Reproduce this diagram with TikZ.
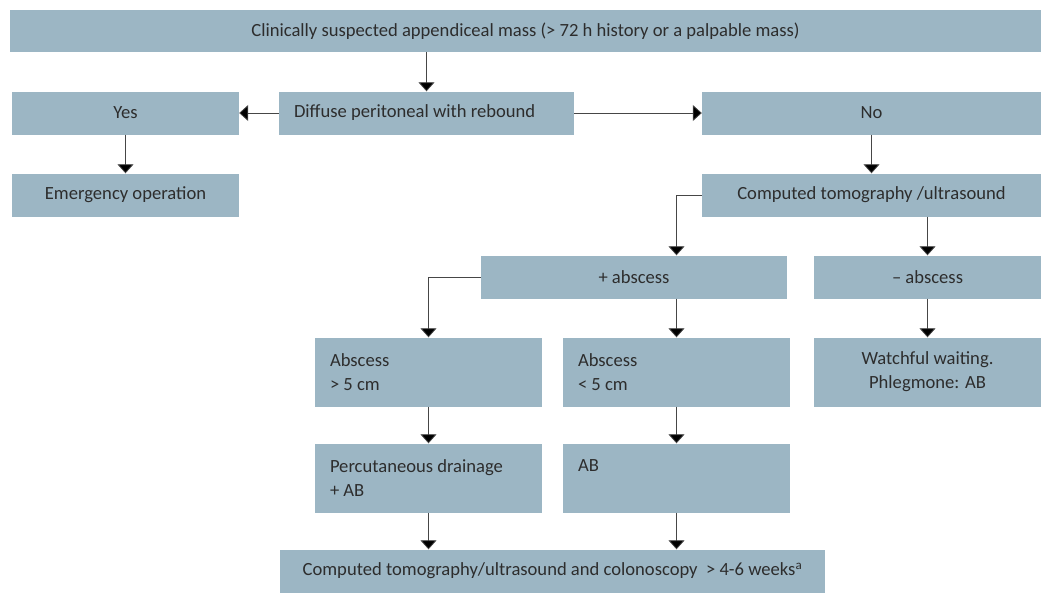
\documentclass[tikz,border=0pt]{standalone}
\usepackage{fontspec}
\setmainfont{Carlito}
\usepackage{tikz}
\usetikzlibrary{arrows.meta}
\definecolor{boxfill}{RGB}{156,182,196}
\definecolor{boxtext}{RGB}{45,45,45}
\definecolor{linegray}{RGB}{70,70,70}

\begin{document}
\begin{tikzpicture}[x=1pt, y=-1pt,
	font=\fontsize{18.6}{24}\selectfont,
	box/.style={rectangle, fill=boxfill, text=boxtext, inner sep=0pt, minimum height=43},
	leftbox/.style={box, align=flush left, text width=#1-30},
	flow/.style={draw=linegray, line width=0.8pt, -{Triangle[width=16pt, length=9pt, fill=black]}}]
	
	\useasboundingbox (0,0) rectangle (1046,592);
	
	\node [box, minimum width=1031, minimum height=42] (mass) at (525.5,31) {Clinically suspected appendiceal mass (> 72 h history or a palpable mass)};
	\node [box, minimum width=227] (yes) at (125.5,113) {Yes};
	\node [leftbox=295, minimum width=295] (diffuse) at (426.5,113) {Diffuse peritoneal with rebound};
	\node [box, minimum width=339] (no) at (871.5,113) {No};
	\node [box, minimum width=227] (emergency) at (125.5,195) {Emergency operation};
	\node [box, minimum width=339] (ctus) at (871.5,195) {Computed tomography /ultrasound};
	\node [box, minimum width=306] (plus) at (634,277) {+ abscess};
	\node [box, minimum width=227] (minus) at (927.5,277) {– abscess};
	\node [leftbox=227, minimum width=227, minimum height=69] (large) at (428.5,372) {Abscess\\> 5 cm};
	\node [leftbox=227, minimum width=227, minimum height=69] (small) at (676.5,372) {Abscess\\< 5 cm};
	\node [box, align=center, minimum width=227, minimum height=69] (watch) at (927.5,372) {Watchful waiting.\\Phlegmone: AB};
	\node [leftbox=227, minimum width=227, minimum height=69] (drain) at (428.5,478) {Percutaneous drainage\\+ AB};
	\node [leftbox=227, minimum width=227, minimum height=69] (ab) at (676.5,478) {AB\\\mbox{}};
	\node [box, minimum width=545] (followup) at (552.5,571) {Computed tomography/ultrasound and colonoscopy~~> 4-6 weeks\textsuperscript{a}};
	
	\draw [flow] (diffuse.north |- mass.south) -- (diffuse.north);
	\draw [flow] (diffuse.west) -- (yes.east);
	\draw [flow] (diffuse.east) -- (no.west);
	\draw [flow] (yes.south) -- (emergency.north);
	\draw [flow] (no.south) -- (ctus.north);
	\draw [flow] (ctus.west) -| (plus.north -| small.north);
	\draw [flow] (ctus.south -| minus.north) -- (minus.north);
	\draw [flow] (plus.west) -| (large.north);
	\draw [flow] (plus.south -| small.north) -- (small.north);
	\draw [flow] (minus.south) -- (watch.north);
	\draw [flow] (large.south) -- (drain.north);
	\draw [flow] (small.south) -- (ab.north);
	\draw [flow] (drain.south) -- (drain.south |- followup.north);
	\draw [flow] (ab.south) -- (ab.south |- followup.north);
\end{tikzpicture}
\end{document}
